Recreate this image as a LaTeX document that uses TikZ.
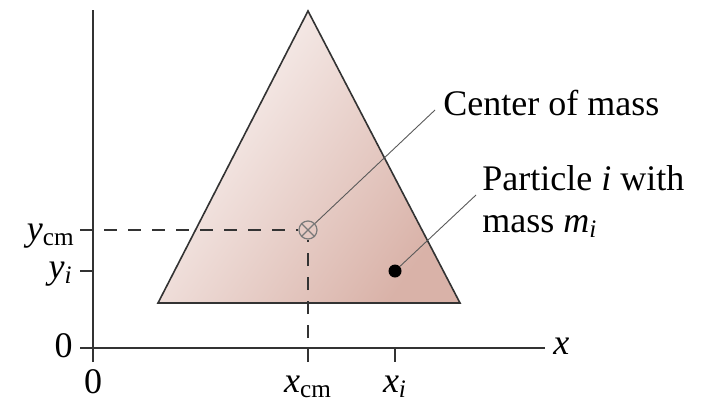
\documentclass[tikz,border=0pt]{standalone}
\usepackage{fontspec}
\setmainfont{Liberation Serif}
\usetikzlibrary{calc}
\definecolor{axisgray}{HTML}{333333}
\definecolor{leadergray}{HTML}{5A5A5A}
\definecolor{markgray}{HTML}{7A7A7A}
\definecolor{platelight}{HTML}{FBF6F5}
\definecolor{platedark}{HTML}{D9B2A8}

\begin{document}
\begin{tikzpicture}[x=0.5pt, y=0.5pt, font=\fontsize{18}{21}\selectfont]
  % Styles
  \tikzstyle{axisline} = [draw=axisgray, line width=1.4pt]
  \tikzstyle{tickline} = [draw=axisgray, line width=1.2pt]
  \tikzstyle{guide} = [draw=axisgray, line width=1.2pt, dash pattern=on 6.5pt off 5.5pt]
  \tikzstyle{leader} = [draw=leadergray, line width=0.45pt]
  \tikzstyle{axislabel} = [inner sep=0pt]

  \useasboundingbox (-93,-54) rectangle (617,348);

  % Triangular plate
  \coordinate (apex) at (215,337);
  \coordinate (baseleft) at (65,45);
  \coordinate (baseright) at (367,45);
  \path[draw=axisgray, line width=0.8pt, top color=platelight, bottom color=platedark,
    shading angle=55] (apex) -- (baseleft) -- (baseright) -- cycle;

  % Axes
  \coordinate (ytop) at (0,338);
  \coordinate (ybot) at (0,-14);
  \coordinate (xleft) at (-13,0);
  \coordinate (xright) at (452,0);
  \draw[axisline] (ybot) -- (ytop);
  \draw[axisline] (xleft) -- (xright);

  % Center of mass and particle
  \node[circle, draw=markgray, line width=0.6pt, minimum size=9pt, inner sep=0pt] (cm) at (215,118) {};
  \draw[markgray, line width=0.6pt] (cm.45) -- (cm.225) (cm.135) -- (cm.315);
  \node[circle, fill=black, minimum size=6.5pt, inner sep=0pt] (particle) at (302,77) {};

  % Dashed guides and ticks
  \coordinate (ycm) at (-13,118);
  \coordinate (xcm) at (215,-14);
  \coordinate (yi) at (-13,77);
  \coordinate (xi) at (302,0);
  \draw[tickline] (ycm) -- ++(13,0);
  \draw[guide] (ycm) -- (cm.west);
  \draw[guide] (xcm) -- (cm.south);
  \draw[tickline] (yi) -- ++(13,0);
  \draw[tickline] (xi) -- ++(0,-14);

  % Axis labels
  \node[axislabel, anchor=base east] (lycm) at (-18,108) {$\mathit{y}_{\mathrm{cm}}$};
  \node[axislabel, anchor=base east] (lyi) at (-20,70) {$\mathit{y}_{\mathit{i}}$};
  \node[axislabel, anchor=base east] (lyzero) at (-20,-9) {0};
  \node[axislabel, anchor=base] (lxzero) at (0,-45) {0};
  \node[axislabel, anchor=base] (lxcm) at (215,-44) {$\mathit{x}_{\mathrm{cm}}$};
  \node[axislabel, anchor=base] (lxi) at (302,-44) {$\mathit{x}_{\mathit{i}}$};
  \node[axislabel, anchor=base west] (lx) at (460,-6) {\textit{x}};

  % Callouts
  \node[axislabel, anchor=base west] (cmtext) at (350,233) {Center of mass};
  \node[axislabel, anchor=north west, align=left] (ptext) at (389,183)
    {Particle \textit{i} with\\mass $\mathit{m}_{\mathit{i}}$};
  \coordinate (cmend) at (342,238);
  \coordinate (pend) at (383,153);
  \draw[leader] (cm) -- (cmend);
  \draw[leader] (particle) -- (pend);

\end{tikzpicture}
\end{document}
